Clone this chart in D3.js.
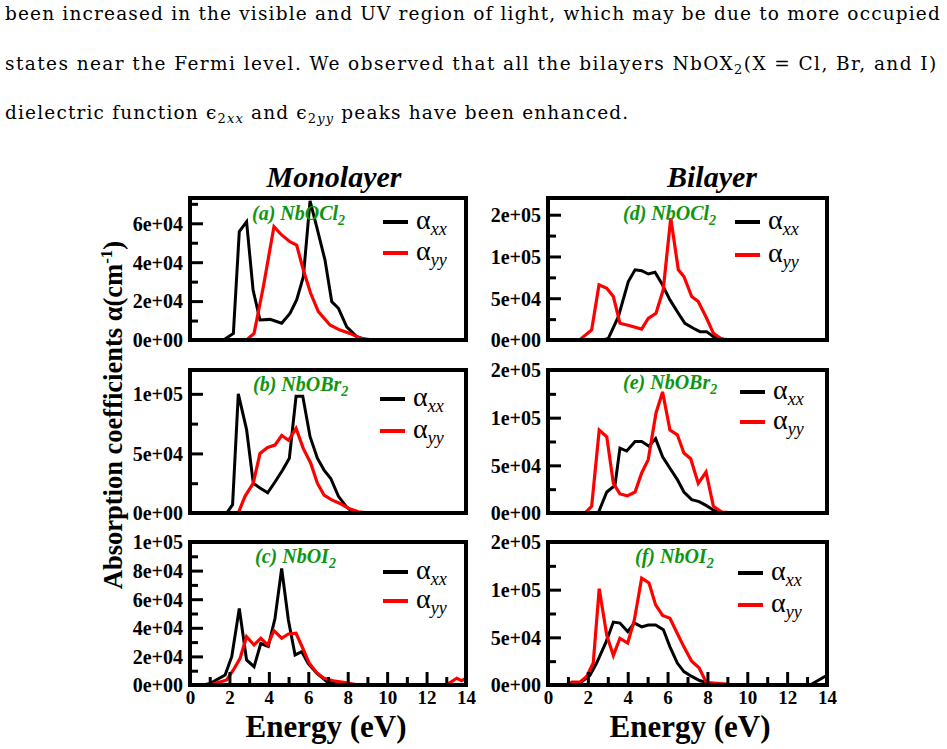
<!DOCTYPE html>
<html>
<head>
<meta charset="utf-8">
<script src="https://cdn.jsdelivr.net/npm/d3@7"></script>
<style>
  body { margin: 0; background: #fff; }
  svg { display: block; font-family: "Liberation Serif", "Times New Roman", serif; }
</style>
</head>
<body>
<svg id="fig" width="947" height="749"></svg>
<script>
// [energy (eV), absorption (cm^-1)]
const monoCl_xx = [[1.0,0],[1.7,0],[2.2,3400],[2.5,55700],[2.87,60800],[3.2,25700],[3.55,10300],[4.06,10600],[4.65,8600],[5.07,13700],[5.41,20600],[5.75,32500],[6.09,71500],[6.43,58000],[6.85,41000],[7.19,19700],[7.53,16300],[7.95,6800],[8.46,1700],[9.0,0]];
const monoCl_yy = [[1.0,0],[2.87,0],[3.25,3400],[3.72,27400],[4.26,58300],[4.65,54000],[5.07,50500],[5.41,48800],[5.75,36000],[6.12,24000],[6.51,14600],[7.1,7700],[7.61,5100],[8.12,3400],[8.63,900],[9.3,0]];
const monoBr_xx = [[1.18,0],[1.86,0],[2.16,7000],[2.45,100000],[2.87,70000],[3.21,25000],[3.55,21000],[3.94,17000],[4.31,26000],[4.7,36000],[5.04,46000],[5.38,98000],[5.72,98000],[6.09,64000],[6.46,46000],[6.8,36000],[7.14,29000],[7.53,14000],[7.95,5000],[8.3,0]];
const monoBr_yy = [[1.18,0],[2.45,0],[2.79,14000],[3.21,25000],[3.55,50000],[3.94,55000],[4.31,57000],[4.65,65000],[5.0,61000],[5.38,71000],[5.75,54000],[6.12,42000],[6.46,25000],[6.8,15000],[7.19,11000],[7.61,8000],[8.03,4000],[8.54,1000],[9.05,0]];
const monoI_xx = [[0.68,0],[1.01,1000],[1.78,7000],[2.12,20000],[2.5,53500],[2.87,17500],[3.25,12800],[3.59,29000],[3.97,27000],[4.31,46500],[4.65,81500],[4.99,45500],[5.33,21000],[5.67,23300],[6.0,15000],[6.43,8200],[6.94,2300],[7.6,500],[8.45,0],[9.0,0]];
const monoI_yy = [[1.01,0],[1.86,3500],[2.2,10500],[2.54,18700],[2.87,33800],[3.25,28000],[3.59,32700],[3.94,28000],[4.26,38000],[4.65,32700],[4.99,35700],[5.38,36200],[5.72,25700],[6.05,15200],[6.43,8600],[6.8,4700],[7.27,3000],[7.95,1500],[8.54,0],[13.0,0],[13.53,4700],[13.78,3000],[14.0,4700]];

const biCl_xx = [[1.6,0],[2.78,0],[3.03,2000],[3.53,28000],[4.03,70000],[4.37,84000],[4.7,83000],[5.03,79000],[5.37,81000],[5.7,68000],[6.12,48000],[6.54,32000],[6.87,20000],[7.29,14000],[7.63,10000],[7.96,10000],[8.3,4000],[8.8,1000],[9.3,0]];
const biCl_yy = [[1.1,0],[1.58,0],[2.19,12000],[2.56,66000],[2.95,62000],[3.28,52000],[3.61,20000],[4.11,17000],[4.7,13000],[5.03,26000],[5.42,32000],[5.78,60000],[6.16,146000],[6.54,84000],[6.82,76000],[7.21,52000],[7.54,46000],[7.96,26000],[8.3,8000],[8.71,1000],[9.3,0]];
const biBr_xx = [[1.27,0],[2.52,0],[2.95,22000],[3.36,29000],[3.61,68000],[3.95,65000],[4.37,75000],[4.7,75000],[5.07,70000],[5.4,78000],[5.75,59000],[6.12,47000],[6.49,35000],[6.82,22000],[7.21,14000],[7.58,12000],[7.93,8000],[8.3,3000],[8.8,500],[9.47,0]];
const biBr_yy = [[1.27,0],[1.86,0],[2.19,7000],[2.57,87000],[2.95,80000],[3.28,31000],[3.61,20000],[3.98,18000],[4.37,22000],[4.7,42000],[5.03,56000],[5.42,105000],[5.75,127000],[6.12,87000],[6.49,82000],[6.82,63000],[7.16,57000],[7.54,31000],[7.93,43000],[8.3,7000],[8.71,1000],[9.47,0]];
const biI_xx = [[1.1,0],[1.6,2000],[2.1,10000],[2.44,23000],[2.91,45000],[3.28,66000],[3.61,65000],[4.0,56000],[4.33,65000],[4.7,61000],[5.03,63000],[5.4,63000],[5.79,58000],[6.12,40000],[6.49,23000],[6.82,14000],[7.21,9000],[7.63,4500],[8.13,2000],[8.96,0],[13.15,0],[13.98,10000]];
const biI_yy = [[0.94,0],[1.2,3000],[1.6,3000],[1.94,9000],[2.27,23000],[2.57,101000],[2.95,52000],[3.28,31000],[3.61,49000],[4.0,44000],[4.33,68000],[4.7,112000],[5.07,107000],[5.4,84000],[5.75,73000],[6.12,70000],[6.49,54000],[6.82,40000],[7.21,25000],[7.58,18000],[7.96,2000],[8.3,2000],[8.96,1000],[9.3,0]];

// tick values and their printed labels (xmgrace %.0e style)
const monoClTicks = [0, 2e4, 4e4, 6e4];
const monoClLabels = ["0e+00", "2e+04", "4e+04", "6e+04"];
const monoBrTicks = [0, 5e4, 1e5];
const monoBrLabels = ["0e+00", "5e+04", "1e+05"];
const monoITicks = [0, 2e4, 4e4, 6e4, 8e4, 1e5];
const monoILabels = ["0e+00", "2e+04", "4e+04", "6e+04", "8e+04", "1e+05"];
const biTicks = [0, 5e4, 1e5, 1.5e5];
const biLabels = ["0e+00", "5e+04", "1e+05", "2e+05"];
const energyTicks = [0, 2, 4, 6, 8, 10, 12, 14];
const energyMinor = [1, 3, 5, 7, 9, 11, 13];

const svg = d3.select("#fig");
const green = "#0e960e";

// ---- paragraph text above the figure ----
const para = svg.append("g").attr("font-family", "DejaVu Serif, serif")
  .attr("font-size", 18.5).attr("fill", "#000");
function justify(sel, target) {
  const w = sel.node().getComputedTextLength();
  const n = sel.text().length;
  sel.attr("letter-spacing", (target - w) / n);
}
const l1 = para.append("text").attr("x", 5).attr("y", 20)
  .text("been increased in the visible and UV region of light, which may be due to more occupied");
justify(l1, 936);
const ls = +l1.attr("letter-spacing");
const l2 = para.append("text").attr("x", 5).attr("y", 70);
l2.append("tspan").text("states near the Fermi level.  We observed that all the bilayers NbOX");
l2.append("tspan").attr("font-size", 13).attr("dy", 4).text("2");
l2.append("tspan").attr("dy", -4).text("(X = Cl, Br, and I)");
justify(l2, 934);
const l3 = para.append("text").attr("x", 5).attr("y", 119).attr("letter-spacing", ls);
l3.append("tspan").text("dielectric function ϵ");
l3.append("tspan").attr("font-size", 13).attr("dy", 4).text("2");
l3.append("tspan").attr("font-size", 13).attr("font-style", "italic").text("xx");
l3.append("tspan").attr("dy", -4).text(" and ϵ");
l3.append("tspan").attr("font-size", 13).attr("dy", 4).text("2");
l3.append("tspan").attr("font-size", 13).attr("font-style", "italic").text("yy");
l3.append("tspan").attr("dy", -4).text(" peaks have been enhanced.");

// ---- panels ----
const colX = [190, 548];
const colW = [276, 279];
const rowY = [198, 370, 542];
const rowH = [142, 143, 143];

const panels = [
  { col: 0, row: 0, xx: monoCl_xx, yy: monoCl_yy, ymax: 7.3e4, ticks: monoClTicks, labels: monoClLabels, minor: 1e4,
    tag: "(a) NbOCl", lx: 252, ly: 22, gx: 193, g1: 24, g2: 55 },
  { col: 0, row: 1, xx: monoBr_xx, yy: monoBr_yy, ymax: 1.2e5, ticks: monoBrTicks, labels: monoBrLabels, minor: 2.5e4,
    tag: "(b) NbOBr", lx: 253, ly: 21, gx: 190, g1: 29, g2: 61 },
  { col: 0, row: 2, xx: monoI_xx, yy: monoI_yy, ymax: 1e5, ticks: monoITicks, labels: monoILabels, minor: 1e4,
    tag: "(c) NbOI", lx: 255, ly: 21, gx: 193, g1: 30, g2: 59 },
  { col: 1, row: 0, xx: biCl_xx, yy: biCl_yy, ymax: 1.7e5, ticks: biTicks, labels: biLabels, minor: 2.5e4,
    tag: "(d) NbOCl", lx: 623, ly: 22, gx: 187, g1: 24, g2: 57 },
  { col: 1, row: 1, xx: biBr_xx, yy: biBr_yy, ymax: 1.5e5, ticks: biTicks, labels: biLabels, minor: 2.5e4,
    tag: "(e) NbOBr", lx: 623, ly: 19, gx: 192, g1: 22, g2: 52 },
  { col: 1, row: 2, xx: biI_xx, yy: biI_yy, ymax: 1.5e5, ticks: biTicks, labels: biLabels, minor: 2.5e4,
    tag: "(f) NbOI", lx: 635, ly: 21, gx: 190, g1: 31, g2: 63 }
];

panels.forEach((p, i) => {
  const x0 = colX[p.col], y0 = rowY[p.row], w = colW[p.col], h = rowH[p.row];
  const g = svg.append("g").attr("transform", `translate(${x0},${y0})`);
  const x = d3.scaleLinear().domain([0, 14]).range([0, w]);
  const y = d3.scaleLinear().domain([0, p.ymax]).range([h, 0]);

  g.append("clipPath").attr("id", "clip" + i)
    .append("rect").attr("width", w).attr("height", h);

  const line = d3.line().x(d => x(d[0])).y(d => y(d[1]));
  const plot = g.append("g").attr("clip-path", `url(#clip${i})`);
  plot.append("path").datum(p.xx).attr("d", line)
    .attr("fill", "none").attr("stroke", "#000").attr("stroke-width", 3);
  plot.append("path").datum(p.yy).attr("d", line)
    .attr("fill", "none").attr("stroke", "#ff0000").attr("stroke-width", 3.2);

  // y axis (ticks point inward)
  const yAxis = g.append("g").call(d3.axisLeft(y)
    .tickValues(p.ticks).tickFormat((d, k) => p.labels[k]).tickSize(-13).tickPadding(7));
  const minorVals = d3.range(0, p.ymax + 1, p.minor).filter(v => !p.ticks.includes(v));
  const yMinor = g.append("g").call(d3.axisLeft(y)
    .tickValues(minorVals).tickFormat("").tickSize(-8));
  [yAxis, yMinor].forEach(a => {
    a.select(".domain").remove();
    a.selectAll("line").attr("stroke", "#000").attr("stroke-width", 3);
  });
  yAxis.selectAll("text").attr("font-family", "Liberation Serif, serif")
    .attr("font-weight", "bold").attr("font-size", 20).attr("fill", "#000")
    .attr("dy", "0.34em");

  if (p.row === 2) {
    const xAxis = g.append("g").attr("transform", `translate(0,${h})`)
      .call(d3.axisBottom(x).tickValues(energyTicks).tickFormat(d3.format("d")).tickSize(-13).tickPadding(6));
    const xMinor = g.append("g").attr("transform", `translate(0,${h})`)
      .call(d3.axisBottom(x).tickValues(energyMinor).tickFormat("").tickSize(-8));
    [xAxis, xMinor].forEach(a => {
      a.select(".domain").remove();
      a.selectAll("line").attr("stroke", "#000").attr("stroke-width", 3);
    });
    xAxis.selectAll("text").attr("font-family", "Liberation Serif, serif")
      .attr("font-weight", "bold").attr("font-size", 19).attr("fill", "#000");
  }

  // frame
  g.append("rect").attr("width", w).attr("height", h)
    .attr("fill", "none").attr("stroke", "#000").attr("stroke-width", 4);

  // panel label
  const t = g.append("text").attr("x", p.lx - x0).attr("y", p.ly)
    .attr("fill", green).attr("font-weight", "bold").attr("font-style", "italic").attr("font-size", 20);
  t.append("tspan").text(p.tag);
  t.append("tspan").attr("font-size", 14).attr("dy", 5).text("2");

  // legend: line, alpha and its subscript
  [["#000", p.g1, "xx"], ["#ff0000", p.g2, "yy"]].forEach(([c, ly, sub]) => {
    g.append("line").attr("x1", p.gx).attr("x2", p.gx + 25).attr("y1", ly).attr("y2", ly)
      .attr("stroke", c).attr("stroke-width", 4);
    const a = g.append("text").attr("x", p.gx + 33).attr("y", ly + 7)
      .attr("font-size", 28).attr("fill", "#000").text("α");
    const aw = a.node().getComputedTextLength();
    g.append("text").attr("x", p.gx + 33 + aw).attr("y", ly + 13)
      .attr("font-size", 18).attr("font-style", "italic").attr("fill", "#000").text(sub);
  });
});

// column titles
svg.append("text").attr("x", 334).attr("y", 187).attr("text-anchor", "middle")
  .attr("font-weight", "bold").attr("font-style", "italic").attr("font-size", 30).text("Monolayer");
svg.append("text").attr("x", 712).attr("y", 187).attr("text-anchor", "middle")
  .attr("font-weight", "bold").attr("font-style", "italic").attr("font-size", 30).text("Bilayer");

// x titles
[326, 690].forEach(cx => {
  svg.append("text").attr("x", cx).attr("y", 737).attr("text-anchor", "middle")
    .attr("font-weight", "bold").attr("font-size", 31).text("Energy (eV)");
});

// y title
const yt = svg.append("text").attr("transform", "translate(122,415) rotate(-90)")
  .attr("text-anchor", "middle").attr("font-weight", "bold").attr("font-size", 26.5);
yt.append("tspan").text("Absorption coefficients α(cm");
yt.append("tspan").attr("font-size", 17).attr("dy", -10).text("-1");
yt.append("tspan").attr("dy", 10).text(")");
</script>
</body>
</html>
